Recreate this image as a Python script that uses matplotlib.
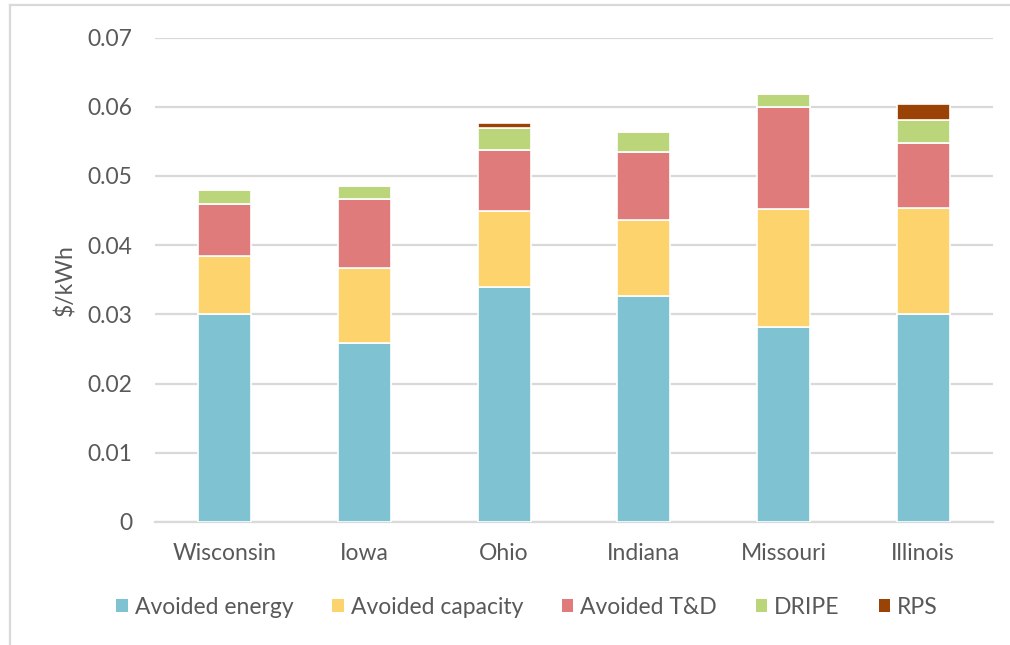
import matplotlib
matplotlib.use("Agg")
import matplotlib.pyplot as plt
from matplotlib.lines import Line2D
from matplotlib.patches import Patch
import numpy as np

plt.rcParams['font.family'] = ['Lato', 'DejaVu Sans']

states = ["Wisconsin", "Iowa", "Ohio", "Indiana", "Missouri", "Illinois"]
avoided_energy = [0.0300, 0.0259, 0.0339, 0.0327, 0.0282, 0.0300]
avoided_capacity = [0.0085, 0.0108, 0.0111, 0.0109, 0.0170, 0.0154]
avoided_td = [0.0075, 0.0100, 0.0088, 0.0098, 0.0147, 0.0094]
dripe = [0.0019, 0.0018, 0.0031, 0.0029, 0.0020, 0.0033]
rps = [0.0, 0.0, 0.0007, 0.0, 0.0, 0.0023]

series_names = ["Avoided energy", "Avoided capacity", "Avoided T&D", "DRIPE", "RPS"]
series_values = [avoided_energy, avoided_capacity, avoided_td, dripe, rps]
colors = ["#7FC3D3", "#FDD36E", "#E07B7B", "#BBD67A", "#9B4306"]

yticks = [0, 0.01, 0.02, 0.03, 0.04, 0.05, 0.06, 0.07]
ytick_labels = ["0", "0.01", "0.02", "0.03", "0.04", "0.05", "0.06", "0.07"]

text_color = "#595959"
grid_color = "#D9D9D9"

W, H = 1010, 645
fig = plt.figure(figsize=(W / 100, H / 100), dpi=100)
ax = fig.add_axes([155 / W, 1 - 522 / H, (993 - 155) / W, (522 - 37.5) / H])

x = np.arange(len(states))
bottom = np.zeros(len(states))
for name, vals, col in zip(series_names, series_values, colors):
    vals = np.array(vals)
    ax.bar(x, vals, width=0.38, bottom=bottom, color=col, edgecolor="white",
           linewidth=1.2, label=name, zorder=3)
    bottom += vals

ax.set_xlim(-0.5, len(states) - 0.5)
ax.set_ylim(0, 0.07)
ax.set_yticks(yticks)
ax.set_yticklabels(ytick_labels)
ax.set_xticks(x)
ax.set_xticklabels(states)
ax.tick_params(axis="both", length=0, labelsize=16.5, colors=text_color)
ax.tick_params(axis="y", pad=16.5)
ax.tick_params(axis="x", pad=15)

ax.grid(axis="y", color=grid_color, linewidth=1.6, zorder=0)
ax.set_axisbelow(True)
for side in ["top", "right", "left"]:
    ax.spines[side].set_visible(False)
ax.spines["bottom"].set_color(grid_color)
ax.spines["bottom"].set_linewidth(1.6)

ax.set_ylabel("$/kWh", fontsize=16.5, color=text_color, labelpad=8)

handles = [Patch(facecolor=c, edgecolor="none") for c in colors]
fig.legend(handles, series_names, loc="center", bbox_to_anchor=(527 / W, 1 - 607 / H),
           ncol=5, frameon=False, fontsize=16.5, handlelength=0.5, handleheight=0.5,
           handletextpad=0.3, columnspacing=1.7, labelcolor=text_color)

# outer chart border
fig.add_artist(Line2D([10 / W, 10 / W], [0, 1 - 5 / H], color=grid_color, linewidth=1.6,
                      transform=fig.transFigure))
fig.add_artist(Line2D([10 / W, 1], [1 - 5 / H, 1 - 5 / H], color=grid_color, linewidth=1.6,
                      transform=fig.transFigure))

fig.savefig("out.png", dpi=100, facecolor="white")
